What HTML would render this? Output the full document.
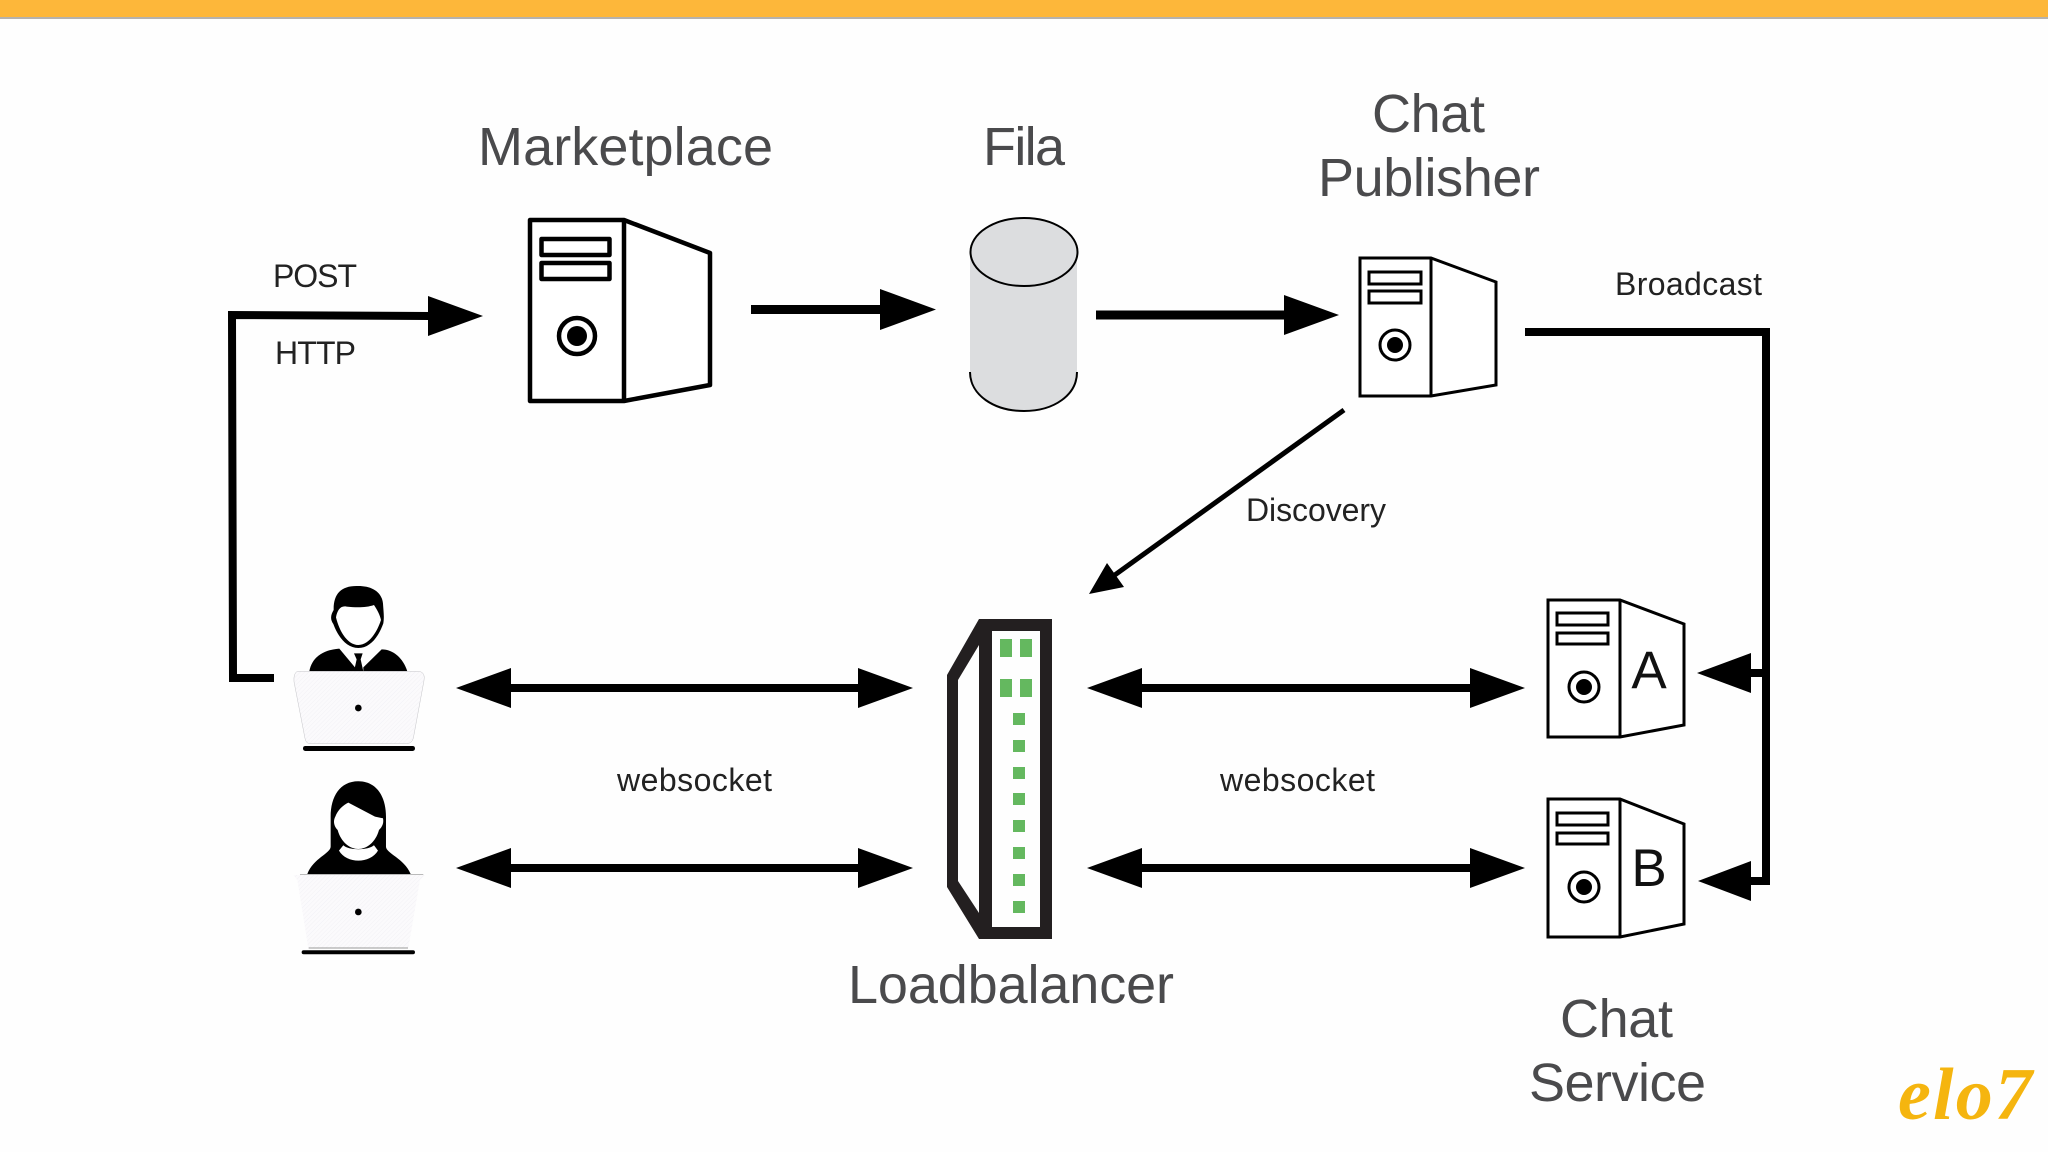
<!DOCTYPE html>
<html>
<head>
<meta charset="utf-8">
<style>
html,body{margin:0;padding:0;background:#fefefe;}
svg{display:block;}
.t{font-family:"Liberation Sans",sans-serif;font-size:54px;fill:#4a4a4c;}
.s{font-family:"Liberation Sans",sans-serif;font-size:32px;fill:#222;}
</style>
</head>
<body>
<svg width="2048" height="1152" viewBox="0 0 2048 1152" xmlns="http://www.w3.org/2000/svg">
<defs>
<pattern id="h" width="9" height="9" patternUnits="userSpaceOnUse" patternTransform="rotate(45)">
<rect width="9" height="9" fill="#fbfafc"/><rect width="1.5" height="9" fill="#f2f1f5"/>
</pattern>
</defs>
<rect width="2048" height="1152" fill="#fefefe"/>
<rect width="2048" height="17" fill="#fdb73a"/>
<rect y="17" width="2048" height="2" fill="#b5b2ae"/>

<!-- Titles -->
<text class="t" x="478" y="165" textLength="295">Marketplace</text>
<text class="t" x="983" y="165" textLength="82">Fila</text>
<text class="t" x="1372" y="132" textLength="113">Chat</text>
<text class="t" x="1318" y="196" textLength="222">Publisher</text>
<text class="t" x="848" y="1003" textLength="326">Loadbalancer</text>
<text class="t" x="1560" y="1037" textLength="113">Chat</text>
<text class="t" x="1529" y="1101" textLength="177">Service</text>

<!-- Small labels -->
<text class="s" x="273" y="287" textLength="84">POST</text>
<text class="s" x="275" y="364" textLength="81">HTTP</text>
<text class="s" x="1615" y="295" textLength="147">Broadcast</text>
<text class="s" x="1246" y="521" textLength="140">Discovery</text>
<text class="s" x="617" y="791" textLength="155">websocket</text>
<text class="s" x="1220" y="791" textLength="155">websocket</text>

<!-- Marketplace tower -->
<g fill="none" stroke="#000" stroke-width="4.500" stroke-linejoin="round">
<path d="M530 220H624L710 253V385L624 401H530Z" fill="#fff"/>
<path d="M624 220V401"/>
<rect x="541.500" y="239" width="68" height="16"/>
<rect x="541.500" y="263" width="68" height="16"/>
<circle cx="577" cy="336" r="18"/>
</g>
<circle cx="577" cy="336" r="10"/>

<!-- Fila cylinder -->
<path d="M970 252V373C970 395 994 411 1024 411C1054 411 1077 395 1077 373V252Z" fill="#dcdddf"/>
<path d="M970 372C970 395 994 411 1024 411C1054 411 1077 395 1077 372" fill="none" stroke="#000" stroke-width="2"/>
<ellipse cx="1024" cy="252" rx="53.500" ry="34" fill="#dcdddf" stroke="#000" stroke-width="2"/>

<!-- Chat Publisher tower -->
<g fill="none" stroke="#000" stroke-width="3">
<path d="M1360 258H1431L1496 282V385L1431 396H1360Z" fill="#fff"/>
<path d="M1431 258V396"/>
<rect x="1369" y="272" width="52" height="12"/>
<rect x="1369" y="291" width="52" height="12"/>
<circle cx="1395" cy="345" r="15"/>
</g>
<circle cx="1395" cy="345" r="8"/>

<!-- Tower A -->
<g fill="none" stroke="#000" stroke-width="3">
<path d="M1548 600H1620L1684 624V725L1620 737H1548Z" fill="#fff"/>
<path d="M1620 600V737"/>
<rect x="1557" y="613" width="51" height="12"/>
<rect x="1557" y="633" width="51" height="11"/>
<circle cx="1584" cy="687" r="15"/>
</g>
<circle cx="1584" cy="687" r="8"/>
<text x="1649" y="688" text-anchor="middle" font-family="Liberation Sans, sans-serif" font-size="53" fill="#111">A</text>

<!-- Tower B -->
<g fill="none" stroke="#000" stroke-width="3">
<path d="M1548 799H1620L1684 824V924L1620 937H1548Z" fill="#fff"/>
<path d="M1620 799V937"/>
<rect x="1557" y="813" width="51" height="12"/>
<rect x="1557" y="833" width="51" height="11"/>
<circle cx="1584" cy="887" r="15"/>
</g>
<circle cx="1584" cy="887" r="8"/>
<text x="1649" y="886" text-anchor="middle" font-family="Liberation Sans, sans-serif" font-size="53" fill="#111">B</text>

<!-- Loadbalancer -->
<path fill-rule="evenodd" fill="#231f20" d="M979 619H1052V939H979L947 887V675Z M992 631V927H1040V631Z M979 645L958 680V881L979 913Z"/>
<g fill="#64b85f">
<rect x="1000" y="639" width="12" height="18"/><rect x="1020" y="639" width="12" height="18"/>
<rect x="1000" y="679" width="12" height="18"/><rect x="1020" y="679" width="12" height="18"/>
<rect x="1013" y="713" width="12" height="12"/><rect x="1013" y="740" width="12" height="12"/>
<rect x="1013" y="767" width="12" height="12"/><rect x="1013" y="793" width="12" height="12"/>
<rect x="1013" y="820" width="12" height="12"/><rect x="1013" y="847" width="12" height="12"/>
<rect x="1013" y="874" width="12" height="12"/><rect x="1013" y="901" width="12" height="12"/>
</g>

<!-- POST connector -->
<path d="M274 678H233L232 315L430 316" fill="none" stroke="#000" stroke-width="8"/>
<polygon points="428,296 483,316 428,336"/>

<!-- Marketplace to Fila -->
<rect x="751" y="305" width="132" height="9"/>
<polygon points="880,289 936,309.500 880,330"/>
<!-- Fila to Publisher -->
<rect x="1096" y="310.500" width="190" height="9"/>
<polygon points="1284,295 1339,315 1284,335"/>

<!-- Broadcast -->
<path d="M1525 332H1766V881H1750" fill="none" stroke="#000" stroke-width="8"/>
<rect x="1748" y="669" width="19" height="8"/>
<polygon points="1751,653 1697,673 1751,693"/>
<polygon points="1751,861 1698,881 1751,901"/>

<!-- Discovery -->
<line x1="1344" y1="410" x2="1112" y2="577" stroke="#000" stroke-width="5"/>
<polygon points="1089,594 1107,563 1124,587"/>

<!-- Double arrows -->
<g>
<rect x="505" y="684" width="360" height="8"/>
<polygon points="456,688 511,668 511,708"/><polygon points="913,688 858,668 858,708"/>
<rect x="505" y="864" width="360" height="8"/>
<polygon points="456,868 511,848 511,888"/><polygon points="913,868 858,848 858,888"/>
<rect x="1135" y="684" width="340" height="8"/>
<polygon points="1087,688 1142,668 1142,708"/><polygon points="1525,688 1470,668 1470,708"/>
<rect x="1135" y="864" width="340" height="8"/>
<polygon points="1087,868 1142,848 1142,888"/><polygon points="1525,868 1470,848 1470,888"/>
</g>

<!-- Users -->
<g transform="translate(200 560) scale(0.3333)">
<!-- man -->
<path d="M475 78C425 76 400 100 401 150C392 165 390 178 400 192C415 232 440 264 475 264C510 264 535 232 550 190C553 170 551 160 549 130C545 95 515 78 475 78Z"/>
<path fill="#fff" d="M408 172C412 150 422 136 440 140C470 143 500 143 522 135C532 150 540 165 543 180C530 220 505 255 475 255C445 255 420 220 408 172Z"/>
<path d="M328 334C335 295 365 270 418 266L465 322V334Z"/>
<path d="M622 334C610 295 580 268 545 268L490 322V334Z"/>
<path d="M462 280H488L482 298L490 334H462L470 298Z"/>
<path fill="url(#h)" stroke="#c4c4c8" stroke-width="1.500" d="M292 334H658Q677 338 672 362L640 535Q635 551 620 551H330Q318 551 315 535L282 365Q280 340 292 334Z"/>
<circle cx="475" cy="444" r="10"/>
<rect x="309" y="558" width="336" height="15" rx="7"/>
<!-- woman -->
<path d="M475 664C420 664 392 710 392 770V860C392 880 340 895 322 942H632C612 895 558 880 558 860V770C558 710 530 664 475 664Z"/>
<path fill="#fff" d="M445 728L525 770L549 775C552 790 547 800 537 810C527 847 500 867 475 867C450 867 423 847 413 810C403 800 398 785 406 770C413 750 430 735 445 728Z"/>
<path fill="#fff" d="M430 856C445 872 505 872 522 856L534 872C510 912 440 912 417 872Z"/>
<path fill="url(#h)" d="M280 945H675L660 960L625 1165H325L292 960Z"/>
<path d="M300 943H670" stroke="#777" stroke-width="1.500"/>
<path d="M326 1164H624" stroke="#999" stroke-width="3"/>
<circle cx="475" cy="1056" r="10"/>
<rect x="305" y="1171" width="340" height="12" rx="6"/>
</g>

<!-- Logo -->
<text x="1898" y="1119" textLength="134" font-family="Liberation Serif, serif" font-style="italic" font-weight="bold" font-size="74" fill="#f5b50f">elo7</text>
</svg>
</body>
</html>
